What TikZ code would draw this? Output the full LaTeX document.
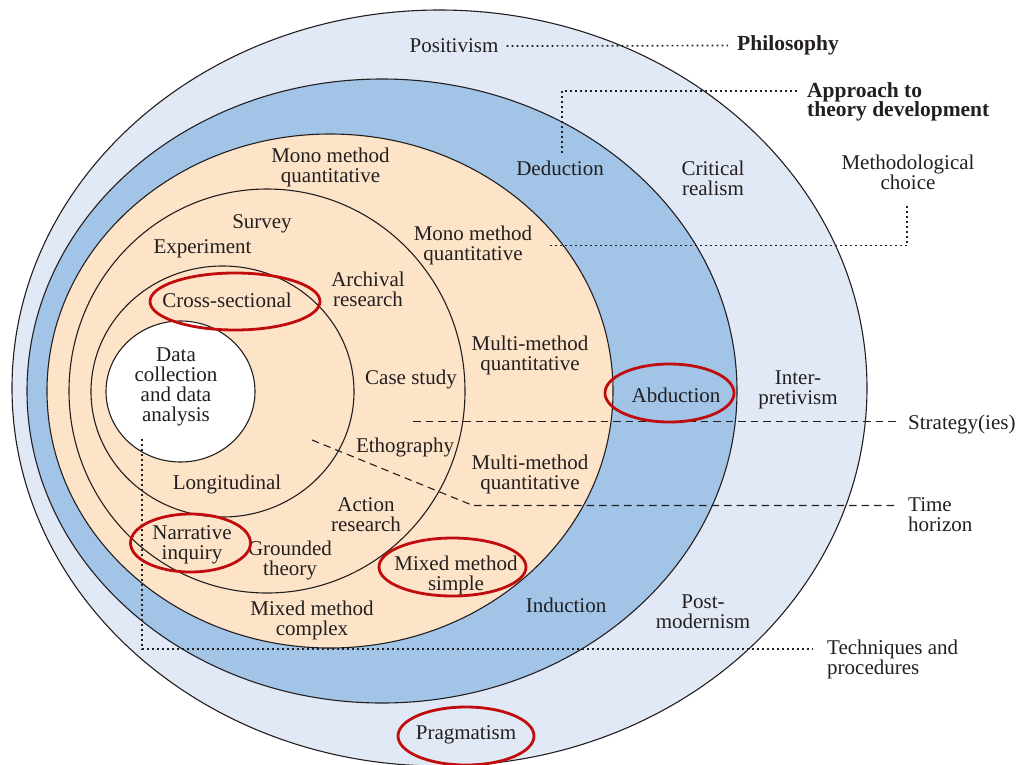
\documentclass[tikz,border=0pt]{standalone}
\usepackage{fontspec}
\setmainfont{Liberation Serif}
\definecolor{outerblue}{RGB}{226,233,246}
\definecolor{midblue}{RGB}{161,196,231}
\definecolor{peach}{RGB}{253,228,200}
\definecolor{hl}{RGB}{192,12,12}
\definecolor{ink}{RGB}{35,31,32}
\begin{document}
\begin{tikzpicture}[x=1pt,y=-1pt,
  ring/.style={draw=ink,line width=1.1pt},
  hlring/.style={draw=hl,line width=2.8pt},
  lbl/.style={inner sep=0pt,align=center,text=ink,yshift=-2pt,font=\fontsize{21}{20}\selectfont},
  lblL/.style={lbl,align=left},
  blbl/.style={inner sep=0pt,align=left,text=ink,yshift=-1.5pt,font=\fontsize{21.5}{19.5}\selectfont\bfseries},
  dotline/.style={draw=ink,line width=1.7pt,dash pattern=on 1.7pt off 3.3pt},
  dashline/.style={draw=ink,line width=1.1pt,dash pattern=on 7.5pt off 5pt}]
\useasboundingbox (0,0) rectangle (1031,764);
% rings
\fill[outerblue] (439.5,388) ellipse [x radius=427.5pt, y radius=378pt];
\draw[ring] (439.5,388) ellipse [x radius=427.5pt, y radius=378pt];
\filldraw[ring,fill=midblue] (382,391) ellipse [x radius=355pt, y radius=312pt];
\filldraw[ring,fill=peach] (330,391) ellipse [x radius=283pt, y radius=257pt];
\draw[ring] (267,391) ellipse [x radius=198pt, y radius=202pt];
\draw[ring] (222.5,391.5) ellipse [x radius=131.5pt, y radius=125.5pt];
\filldraw[ring,fill=white] (180.5,391.5) ellipse [x radius=74.5pt, y radius=70.5pt];

% labels
\node[lbl] (pos) at (454,44) {Positivism};
\node[blbl,anchor=west] (phil) at (737,44) {Philosophy};
\node[blbl,anchor=west] (appr) at (807,100.5) {Approach to\\theory development};
\node[lbl] (ded) at (560,166) {Deduction};
\node[lbl] (crit) at (713,176.5) {Critical\\realism};
\node[lbl] (meth) at (908,170.5) {Methodological\\choice};
\node[lbl] (mono1) at (330.5,165.5) {Mono method\\quantitative};
\node[lbl] (mono2) at (473,243) {Mono method\\quantitative};
\node[lbl] (survey) at (262,222) {Survey};
\node[lbl] (exp) at (202.5,247) {Experiment};
\node[lbl] (arch) at (368,287) {Archival\\research};
\node[lbl] (cross) at (227,298) {Cross-sectional};
\node[lbl] (multi1) at (530,353) {Multi-method\\quantitative};
\node[lbl] (case) at (411,377) {Case study};
\node[lbl] (data) at (176,385) {Data\\collection\\and data\\analysis};
\node[lbl] (abd) at (676,393) {Abduction};
\node[lbl] (inter) at (798,388) {Inter-\\pretivism};
\node[lblL,anchor=west] (strat) at (908,422) {Strategy(ies)};
\node[lbl] (etho) at (405,445) {Ethography};
\node[lbl] (multi2) at (530,472) {Multi-method\\quantitative};
\node[lblL,anchor=west] (time) at (908,513) {Time\\horizon};
\node[lbl] (long) at (227,482) {Longitudinal};
\node[lbl] (action) at (366,513) {Action\\research};
\node[lbl] (narr) at (192,543) {Narrative\\inquiry};
\node[lbl] (ground) at (290,558) {Grounded\\theory};
\node[lbl] (mms) at (456,573) {Mixed method\\simple};
\node[lbl] (ind) at (566,603) {Induction};
\node[lbl] (post) at (703,610) {Post-\\modernism};
\node[lbl] (mmc) at (312,618) {Mixed method\\complex};
\node[lblL,anchor=west] (tech) at (827,657) {Techniques and\\procedures};
\node[lbl] (prag) at (466,733) {Pragmatism};

% connector end points
\coordinate (apprL) at (798,91);
\coordinate (dedTop) at (562,153);
\coordinate (methL) at (550,245.5);
\coordinate (methBot) at (907,206);
\coordinate (stratL) at (413,421.5);
\coordinate (stratR) at (897,421.5);
\coordinate (timeA) at (312,440);
\coordinate (timeB) at (473,505.5);
\coordinate (timeR) at (897,505.5);
\coordinate (techTop) at (142,439);
\coordinate (techR) at (813,649);

% connectors
\draw[dotline] (pos.east) ++(8,0) -- ([xshift=-9pt]phil.west);
\draw[dotline] (dedTop) -- (dedTop |- apprL) -- (apprL);
\draw[dotline] (methBot) -- (methBot |- methL) -- (methL);
\draw[dashline] (stratL) -- (stratR);
\draw[dashline] (timeA) -- (timeB) -- (timeR);
\draw[dotline] (techTop) -- (techTop |- techR) -- (techR);

% highlights
\draw[hlring] (235,301.5) ellipse [x radius=85pt, y radius=28.5pt];
\draw[hlring] (190.5,543) ellipse [x radius=60pt, y radius=29pt];
\draw[hlring] (452.5,567) ellipse [x radius=73.5pt, y radius=29pt];
\draw[hlring] (669.5,393) ellipse [x radius=64.5pt, y radius=29pt];
\draw[hlring] (466,736) ellipse [x radius=68pt, y radius=29pt];
\end{tikzpicture}
\end{document}
